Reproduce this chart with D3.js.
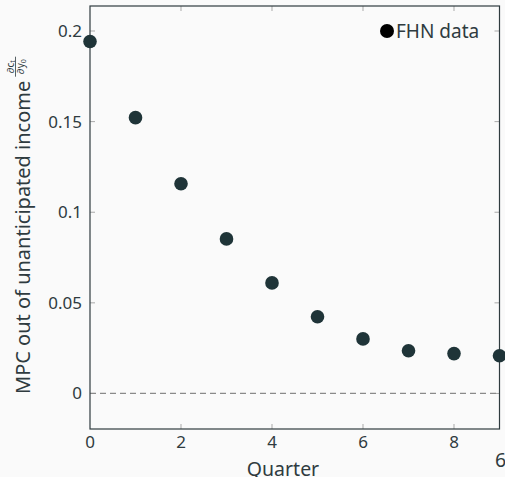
<!DOCTYPE html>
<html>
<head>
<meta charset="utf-8">
<script src="https://cdn.jsdelivr.net/npm/d3@7"></script>
<style>
  html, body { margin: 0; padding: 0; background: #fafafa; }
  svg { display: block; }
  text { font-family: "Noto Sans", "Open Sans", sans-serif; fill: #2f3b3f; }
</style>
</head>
<body>
<svg id="chart" width="505" height="477"></svg>
<script>
// Quarterly MPC out of an unanticipated income shock (FHN estimates)
const quarters = [0, 1, 2, 3, 4, 5, 6, 7, 8, 9];
const mpcValues = [0.1942, 0.1522, 0.1157, 0.0853, 0.0610, 0.0423, 0.0301, 0.0236, 0.0220, 0.0208];
const xTicks = [0, 2, 4, 6, 8];
const yTicks = [0, 0.05, 0.1, 0.15, 0.2];
const yTickLabels = ["0", "0.05", "0.1", "0.15", "0.2"];
const seriesName = "FHN data";

const W = 505, H = 477;
const plot = { left: 90, right: 499.5, top: 6, bottom: 429 };

const svg = d3.select("#chart");
svg.append("rect").attr("width", W).attr("height", H).attr("fill", "#fafafa");

const x = d3.scaleLinear().domain([0, 9]).range([plot.left, plot.right]);
const y = d3.scaleLinear().domain([-0.01961, 0.2138]).range([plot.bottom, plot.top]);

const tickColor = "#a9a9a9";
const frameColor = "#2f3b3f";

// inward-pointing ticks on all four sides
const tickLen = 5;
const gTicks = svg.append("g").attr("stroke", tickColor).attr("stroke-width", 1);
xTicks.filter(d => d > 0).forEach(d => {
  gTicks.append("line").attr("x1", x(d)).attr("x2", x(d)).attr("y1", plot.bottom).attr("y2", plot.bottom - tickLen);
  gTicks.append("line").attr("x1", x(d)).attr("x2", x(d)).attr("y1", plot.top).attr("y2", plot.top + tickLen);
});
yTicks.forEach(d => {
  gTicks.append("line").attr("y1", y(d)).attr("y2", y(d)).attr("x1", plot.left).attr("x2", plot.left + tickLen);
  gTicks.append("line").attr("y1", y(d)).attr("y2", y(d)).attr("x1", plot.right).attr("x2", plot.right - tickLen);
});

// zero reference line
svg.append("line")
  .attr("x1", plot.left).attr("x2", plot.right)
  .attr("y1", y(0)).attr("y2", y(0))
  .attr("stroke", "#8a8a8a").attr("stroke-width", 1.3)
  .attr("stroke-dasharray", "6,4");

// frame
svg.append("rect")
  .attr("x", plot.left).attr("y", plot.top)
  .attr("width", plot.right - plot.left).attr("height", plot.bottom - plot.top)
  .attr("fill", "none").attr("stroke", frameColor).attr("stroke-width", 1.2);

// tick labels
svg.append("g").selectAll("text").data(xTicks).join("text")
  .attr("x", d => x(d)).attr("y", plot.bottom + 19)
  .attr("text-anchor", "middle").attr("font-size", 17)
  .text(d => d);

svg.append("g").selectAll("text").data(yTicks).join("text")
  .attr("x", plot.left - 8).attr("y", d => y(d) + 6)
  .attr("text-anchor", "end").attr("font-size", 17)
  .text((d, i) => yTickLabels[i]);

// axis titles
svg.append("text")
  .attr("x", 283).attr("y", 476)
  .attr("text-anchor", "middle").attr("font-size", 19.5)
  .text("Quarter");

svg.append("text")
  .attr("x", 495).attr("y", 467)
  .attr("text-anchor", "start").attr("font-size", 19.5)
  .text("6");

const yTitle = svg.append("g").attr("transform", "translate(30, 394) rotate(-90)");
const mainTitle = yTitle.append("text")
  .attr("x", 0).attr("y", 0)
  .attr("font-size", 20)
  .text("MPC out of unanticipated income");
// small fraction ∂c_t / ∂y_0 after the title
const fx = mainTitle.node().getComputedTextLength() + 4, fy = -14.5;
const fw = 20;
yTitle.append("line")
  .attr("x1", fx).attr("x2", fx + fw).attr("y1", fy).attr("y2", fy)
  .attr("stroke", "#2f3b3f").attr("stroke-width", 0.8);
const num = yTitle.append("text").attr("x", fx + fw / 2).attr("y", fy - 2)
  .attr("text-anchor", "middle").attr("font-size", 10);
num.append("tspan").text("∂c");
num.append("tspan").attr("font-size", 7).attr("dy", 1.5).text("t");
const den = yTitle.append("text").attr("x", fx + fw / 2).attr("y", fy + 8.5)
  .attr("text-anchor", "middle").attr("font-size", 10);
den.append("tspan").text("∂y");
den.append("tspan").attr("font-size", 7).attr("dy", 1.5).text("0");

// data points
svg.append("g").selectAll("circle").data(quarters).join("circle")
  .attr("cx", (d) => x(d))
  .attr("cy", (d, i) => y(mpcValues[i]))
  .attr("r", 6.8)
  .attr("fill", "#1f3438");

// legend
svg.append("circle").attr("cx", 387).attr("cy", 31).attr("r", 7).attr("fill", "#000");
svg.append("text").attr("x", 396).attr("y", 38).attr("font-size", 19).text(seriesName);
</script>
</body>
</html>
